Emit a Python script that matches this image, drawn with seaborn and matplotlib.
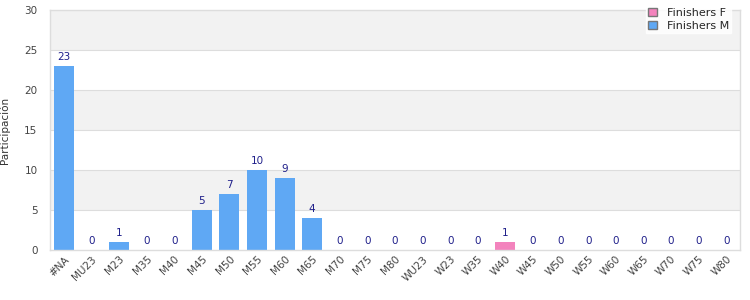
import matplotlib
matplotlib.use("Agg")
import matplotlib.pyplot as plt
import seaborn as sns
import pandas as pd
from matplotlib.patches import Patch

categories = ["#NA", "MU23", "M23", "M35", "M40", "M45", "M50", "M55", "M60", "M65",
              "M70", "M75", "M80", "WU23", "W23", "W35", "W40", "W45", "W50", "W55",
              "W60", "W65", "W70", "W75", "W80"]
finishers_m = [23, 0, 1, 0, 0, 5, 7, 10, 9, 4, 0, 0, 0, 0, 0, 0, 0, 0, 0, 0, 0, 0, 0, 0, 0]
finishers_f = [0, 0, 0, 0, 0, 0, 0, 0, 0, 0, 0, 0, 0, 0, 0, 0, 1, 0, 0, 0, 0, 0, 0, 0, 0]
y_ticks = [0, 5, 10, 15, 20, 25, 30]

color_m = "#5fa8f4"
color_f = "#f383bd"
label_color = "#1f1f8a"

sns.set_style("white")
plt.rcParams['font.family'] = ['DejaVu Sans']

fig = plt.figure(figsize=(7.5, 3.0), dpi=100)
ax = fig.add_axes([50/750, 50/300, 690/750, 240/300])

# alternating bands
for i in range(len(y_ticks) - 1):
    if i % 2 == 1:
        ax.axhspan(y_ticks[i], y_ticks[i+1], color="#f2f2f2", zorder=0, lw=0)
for t in y_ticks[1:-1]:
    ax.axhline(t, color="#dddddd", lw=0.8, zorder=0.5)

df = pd.DataFrame({
    "cat": categories * 2,
    "val": finishers_m + finishers_f,
    "serie": ["Finishers M"] * len(categories) + ["Finishers F"] * len(categories),
})
sns.barplot(data=df, x="cat", y="val", hue="serie", dodge=False,
            palette={"Finishers M": color_m, "Finishers F": color_f},
            width=0.72, ax=ax, legend=False, zorder=2, saturation=1,
            linewidth=0, edgecolor="none")

totals = [m + f for m, f in zip(finishers_m, finishers_f)]
for i, t in enumerate(totals):
    ax.text(i, t + 0.45, str(t), ha="center", va="bottom", fontsize=7.5,
            color=label_color, zorder=3)

ax.set_xlim(-0.5, len(categories) - 0.5)
ax.set_ylim(0, 30)
ax.set_yticks(y_ticks)
ax.tick_params(axis="y", labelsize=7.5, colors="#444444", length=0, pad=9)
ax.tick_params(axis="x", labelsize=7.5, colors="#444444", length=0, pad=3)
plt.setp(ax.get_xticklabels(), rotation=45, ha="right", rotation_mode="anchor")
ax.set_xlabel("")
ax.set_ylabel("Participación", fontsize=7.5, color="#333333", labelpad=10)

for side in ["left", "bottom", "right", "top"]:
    ax.spines[side].set_visible(True)
    ax.spines[side].set_color("#dddddd")
    ax.spines[side].set_linewidth(1)

handles = [Patch(facecolor=color_f, edgecolor="#777777", label="Finishers F"),
           Patch(facecolor=color_m, edgecolor="#777777", label="Finishers M")]
leg = fig.legend(handles=handles, loc="upper right", bbox_to_anchor=(737/750, 1.0),
                 fontsize=8, frameon=True, fancybox=False, handlelength=0.8,
                 handleheight=0.8, borderpad=0.2, labelspacing=0.25, handletextpad=0.9)
leg.get_frame().set_edgecolor("white")
leg.get_frame().set_facecolor("white")

fig.savefig("out.png", dpi=100)
